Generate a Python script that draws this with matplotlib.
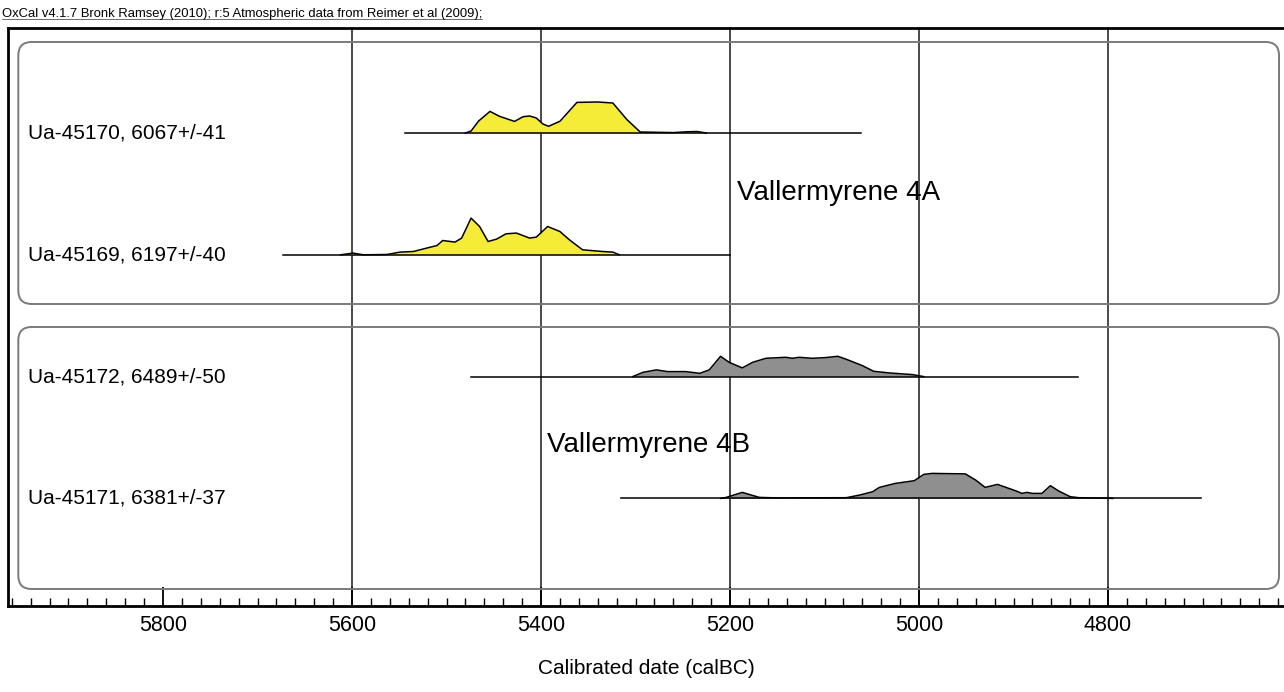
import matplotlib
matplotlib.use('Agg')
import matplotlib.pyplot as plt
from matplotlib.patches import FancyBboxPatch
from matplotlib.ticker import MultipleLocator

plt.rcParams['font.family'] = ['Liberation Sans', 'DejaVu Sans']

# --- data (years calBC, relative probability) ---
labels = ["Ua-45170, 6067+/-41", "Ua-45169, 6197+/-40",
          "Ua-45172, 6489+/-50", "Ua-45171, 6381+/-37"]
groups = ["Vallermyrene 4A", "Vallermyrene 4B"]

range_start = [5544, 5673, 5474, 5315]
range_end = [5061, 5200, 4832, 4702]

years_45170 = [5480, 5474, 5466, 5454, 5444, 5428, 5419, 5412, 5405, 5398, 5392,
               5380, 5362, 5340, 5324, 5309, 5295, 5260, 5246, 5235, 5225]
prob_45170 = [0, 2, 12, 21.6, 16.7, 11.6, 16.3, 17, 15, 9, 6.7,
              11.7, 30.6, 31, 30, 13.3, 1, 0.4, 1.2, 1.5, 0]

years_45169 = [5612, 5599, 5588, 5563, 5549, 5535, 5521, 5510, 5504, 5491, 5484,
               5474, 5465, 5456, 5447, 5437, 5426, 5412, 5405, 5393, 5380, 5370,
               5356, 5335, 5324, 5317]
prob_45169 = [0, 1.7, 0, 0.3, 2.7, 3.3, 6.7, 9.3, 14.3, 12.7, 16.7,
              36.7, 28.3, 13.3, 15.7, 21, 21.7, 16.7, 17.7, 28.3, 23.3, 15,
              5, 3.3, 2.7, 0]

years_45172 = [5303, 5292, 5278, 5266, 5247, 5232, 5222, 5210, 5201, 5187, 5176,
               5162, 5141, 5134, 5127, 5113, 5099, 5086, 5078, 5060, 5048, 5032,
               5007, 4995]
prob_45172 = [0, 4.3, 6.7, 5, 5, 3.3, 6.7, 20.3, 14.3, 8.7, 14.3,
              18.3, 19.3, 18.3, 19.3, 18.3, 19, 20.3, 17.7, 11, 5.3, 3.7,
              2, 0]

years_45171 = [5210, 5204, 5187, 5169, 5150, 5077, 5063, 5049, 5042, 5025, 5005,
               4995, 4986, 4951, 4940, 4930, 4917, 4908, 4898, 4891, 4886, 4880,
               4870, 4861, 4852, 4840, 4831, 4803, 4795]
prob_45171 = [0, 1, 6, 1, 0.5, 0.7, 3.3, 6.7, 11, 15, 17.7,
              24, 25, 24.5, 18.3, 11, 14, 11, 7.7, 5, 6, 5,
              5, 12.7, 7.3, 1.7, 0.7, 0.3, 0]

all_years = [years_45170, years_45169, years_45172, years_45171]
all_probs = [prob_45170, prob_45169, prob_45172, prob_45171]
fills = ["#f4ec36", "#f4ec36", "#8f8f8f", "#8f8f8f"]

header = "OxCal v4.1.7 Bronk Ramsey (2010); r:5 Atmospheric data from Reimer et al (2009);"

W, H = 1284, 692
ax_left, ax_top, ax_bottom = 8.3, 28, 606
ax_h = ax_bottom - ax_top
fig = plt.figure(figsize=(W / 100, H / 100), dpi=100)
ax = fig.add_axes([ax_left / W, 1 - ax_bottom / H, 1 - ax_left / W, ax_h / H])
ax.set_xlim(5963.7, 4613.8)
ax.set_ylim(0, ax_h)

row_top = 473
row_step = 121.8
peak_scale = 1.0

# vertical grid lines (OxCal leaves out the leftmost one)
for g in range(5600, 4700, -200):
    ax.axvline(g, color='#2b2b2b', lw=1.2, zorder=1)

# rounded group boxes
asp = (W - ax_left) / ax_h
for y0, y1 in [(0.5225, 0.9758), (0.0294, 0.4827)]:
    box = FancyBboxPatch((0.00784, y0), 0.9961 - 0.00784, y1 - y0,
                         boxstyle="round,pad=0,rounding_size=0.0105",
                         mutation_aspect=asp, transform=ax.transAxes,
                         facecolor='none', edgecolor='#7a7a7a', lw=1.4, zorder=2)
    ax.add_patch(box)

for i, (lab, yrs, pr) in enumerate(zip(labels, all_years, all_probs)):
    base = row_top - i * row_step
    h = [base + p * peak_scale for p in pr]
    ax.fill_between(yrs, base, h, color=fills[i], lw=0, zorder=3)
    ax.plot(yrs, h, color='black', lw=1.1, zorder=4)
    ax.plot([range_start[i], range_end[i]], [base, base], color='black', lw=1.1, zorder=4)
    ax.text(0.0154, base, lab, transform=ax.get_yaxis_transform(), fontsize=15,
            va='center', ha='left', zorder=5)

ax.text(0.5712, 0.7145, groups[0], transform=ax.transAxes, fontsize=20, va='center')
ax.text(0.4223, 0.2785, groups[1], transform=ax.transAxes, fontsize=20, va='center')

ax.xaxis.set_major_locator(MultipleLocator(200))
ax.xaxis.set_minor_locator(MultipleLocator(20))
ax.tick_params(axis='x', which='major', direction='in', length=13.5, width=1.3,
               pad=6.8, labelsize=15.5)
ax.tick_params(axis='x', which='minor', direction='in', length=5.8, width=1.0)
ax.set_yticks([])
ax.spines['right'].set_visible(False)
for s in ['left', 'bottom', 'top']:
    ax.spines[s].set_linewidth(2.0)
ax.set_xlabel("Calibrated date (calBC)", fontsize=15, labelpad=16.5)

t = fig.text(2 / W, 1 - 14 / H, header, fontsize=9.4, va='center', ha='left')
fig.canvas.draw()
bb = t.get_window_extent()
fig.add_artist(plt.Line2D([bb.x0 / W, bb.x1 / W], [bb.y0 / H + 0.001] * 2,
                          color='#555555', lw=0.6))

fig.savefig('out.png', dpi=100)
